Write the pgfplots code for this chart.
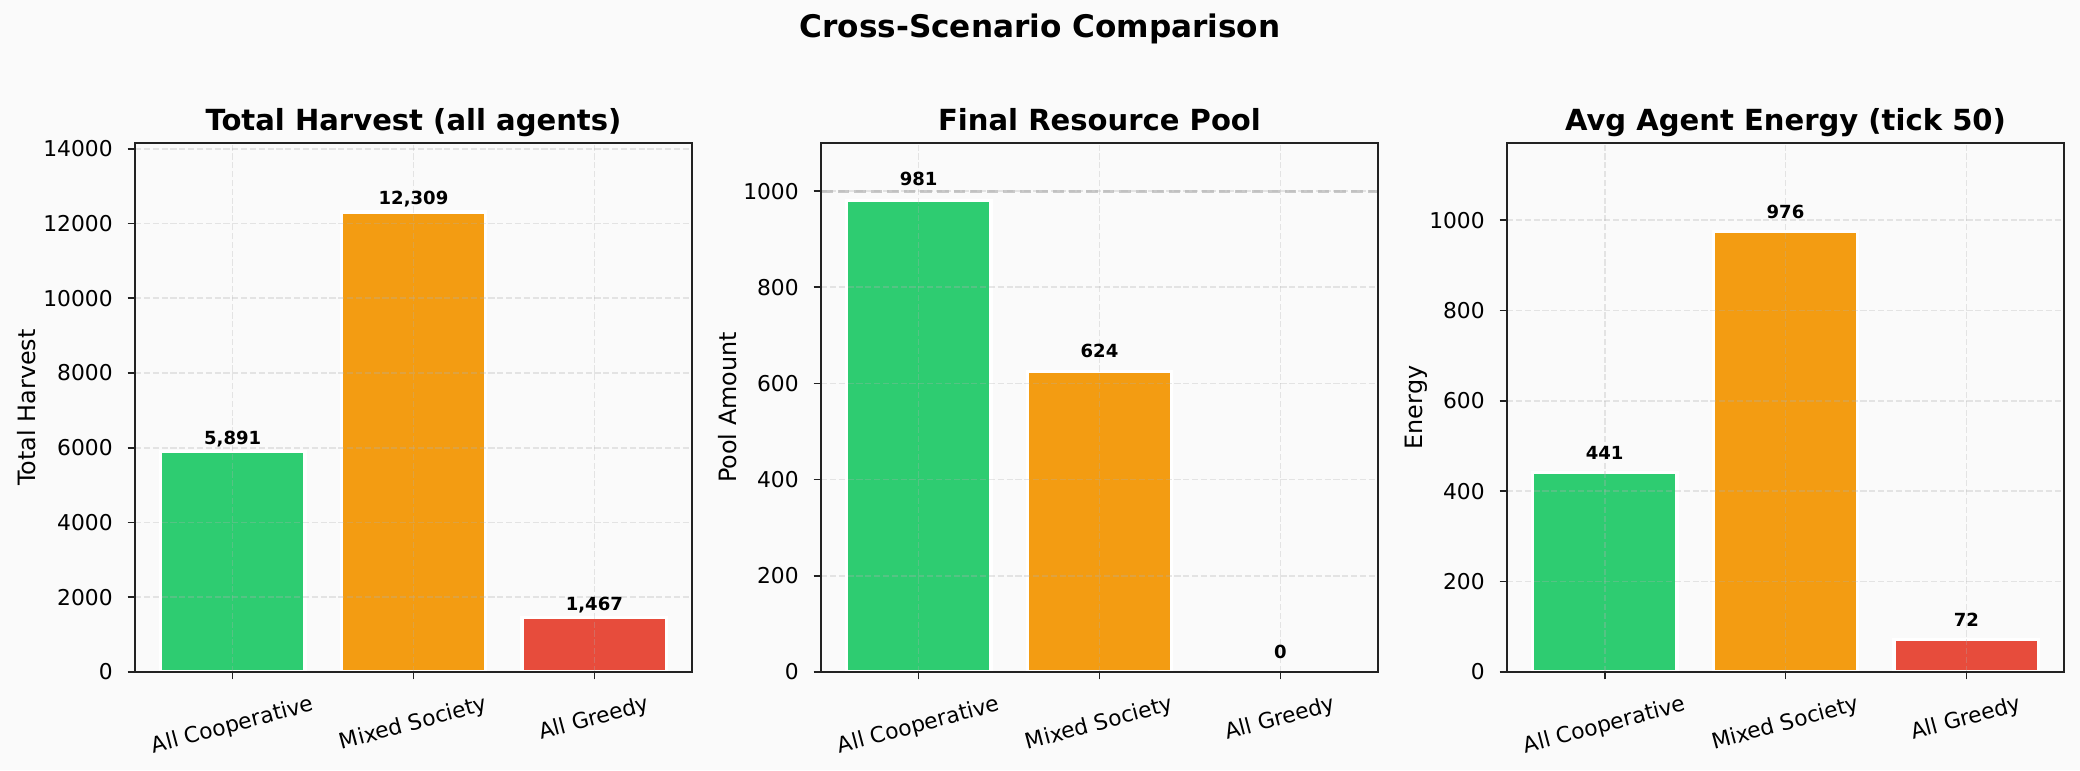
\documentclass[border=0pt]{standalone}
\usepackage{fontspec}
\setmainfont{DejaVu Sans}
\usepackage{graphicx}
\usepackage{pgfplots}
\pgfplotsset{compat=1.18}
\pgfkeys{/pgf/number format/assume math mode=true}

\definecolor{bgcol}{HTML}{FAFAFA}
\definecolor{coop}{HTML}{2ECC71}
\definecolor{mixed}{HTML}{F39C12}
\definecolor{greedy}{HTML}{E74C3C}
\definecolor{gridc}{HTML}{B0B0B0}
\definecolor{spine}{HTML}{222222}

% 1px of the reference = 0.48bp (150 dpi)
\pgfplotsset{
  panel/.style={
    width=267.36bp, height=253.92bp, scale only axis,
    anchor=south west,
    axis background/.style={fill=bgcol},
    xmin=-0.54, xmax=2.54, ymin=0,
    enlargelimits=false,
    scaled y ticks=false,
    xtick={0,1,2},
    xticklabels={{\rotatebox{15}{All Cooperative}},{\rotatebox{15}{Mixed Society}},{\rotatebox{15}{All Greedy}}},
    tick pos=left,
    tick align=outside,
    major tick length=3.5bp,
    tick style={spine, line width=0.8bp},
    axis line style={spine, line width=0.8bp},
    tick label style={font=\fontsize{10.5}{12}\selectfont, inner sep=0pt},
    xticklabel style={anchor=north, yshift=-7bp},
    yticklabel style={anchor=east, xshift=-7bp, /pgf/number format/1000 sep={}},
    grid=major,
    major grid style={color=gridc, opacity=0.3, line width=0.8bp, dash pattern=on 2.96bp off 1.28bp},
    axis on top,
    every axis title shift=0pt,
    title style={font=\bfseries\fontsize{14}{16}\selectfont, at={(axis description cs:0.5,1)}, anchor=base, yshift=6.2bp},
    label style={font=\fontsize{11.5}{13}\selectfont},
  },
  bars/.style 2 args={
    ybar, bar width=0.8, bar shift=0pt,
    fill=#1, draw=white, line width=1.5bp,
    nodes near coords={\pgfmathprintnumber[fixed, precision=0, 1000 sep={,}]{\pgfplotspointmeta}},
    every node near coord/.append style={text=black, anchor=base, yshift=#2,
      font=\bfseries\fontsize{8.7}{10}\selectfont},
  },
}

\begin{document}
\begin{tikzpicture}
\useasboundingbox (0,0) rectangle (998.4bp,369.6bp);
\fill[bgcol] (0,0) rectangle (998.4bp,369.6bp);

\node[font=\bfseries\fontsize{15}{18}\selectfont, anchor=base] at (499.2bp,351.5bp) {Cross-Scenario Comparison};

% Total harvest
\begin{axis}[panel, at={(64.8bp,47.04bp)},
  ymax=14155, ytick={0,2000,...,14000},
  title={Total Harvest (all agents)},
  ylabel={Total Harvest},
  ylabel style={at={(axis description cs:-0.1795,0.5)}, anchor=base}]
  \addplot[bars={coop}{3.4bp}] coordinates {(0,5891)};
  \addplot[bars={mixed}{3.4bp}] coordinates {(1,12309)};
  \addplot[bars={greedy}{3.4bp}] coordinates {(2,1467)};
\end{axis}

% Final resource pool
\begin{axis}[panel, at={(394.08bp,47.04bp)},
  ymax=1100, ytick={0,200,...,1000},
  title={Final Resource Pool},
  ylabel={Pool Amount},
  ylabel style={at={(axis description cs:-0.1526,0.5)}, anchor=base}]
  \addplot[gray, opacity=0.4, line width=1.5bp, dash pattern=on 5.55bp off 2.4bp] coordinates {(-0.54,1000) (2.54,1000)};
  \addplot[bars={coop}{7bp}] coordinates {(0,981)};
  \addplot[bars={mixed}{7bp}] coordinates {(1,624)};
  \addplot[bars={greedy}{6.7bp}] coordinates {(2,0)};
\end{axis}

% Avg agent energy
\begin{axis}[panel, at={(723.36bp,47.04bp)},
  ymax=1171.2, ytick={0,200,...,1000},
  title={Avg Agent Energy (tick 50)},
  ylabel={Energy},
  ylabel style={at={(axis description cs:-0.1526,0.5)}, anchor=base}]
  \addplot[bars={coop}{6.2bp}] coordinates {(0,441)};
  \addplot[bars={mixed}{6.2bp}] coordinates {(1,976)};
  \addplot[bars={greedy}{6.2bp}] coordinates {(2,72)};
\end{axis}
\end{tikzpicture}
\end{document}
